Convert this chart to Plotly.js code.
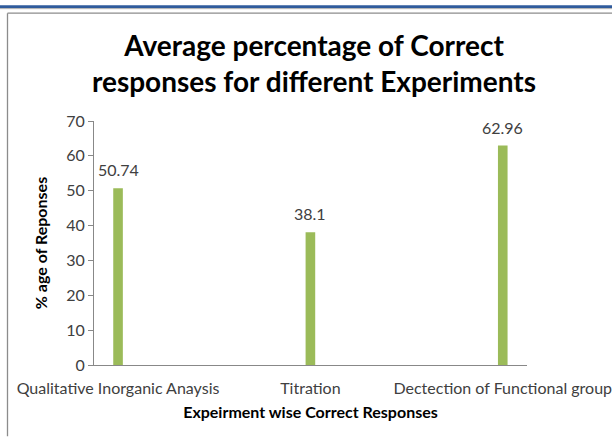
<!DOCTYPE html>
<html>
<head>
<meta charset="utf-8">
<script src="https://cdn.plot.ly/plotly-3.0.1.min.js"></script>
<style>
html,body{margin:0;padding:0;background:#fff;}
#chart{width:612px;height:437px;}
</style>
</head>
<body>
<div id="chart"></div>
<script>
const categories = ["Qualitative Inorganic Anaysis", "Titration", "Dectection of Functional group"];
const values = [50.74, 38.1, 62.96];
const valueLabels = ["50.74", "38.1", "62.96"];
const yTicks = [0, 10, 20, 30, 40, 50, 60, 70];

const FONT = "Lato, 'Open Sans', sans-serif";
const L = 94, R = 527, T = 120.7, B = 365.5;
const W = 612, H = 437;
function px(x){ return (x - L) / (R - L); }
function py(y){ return (B - y) / (B - T); }

const trace = {
  type: 'bar',
  x: categories,
  y: values,
  width: 0.05,
  marker: {color: '#9bbb59', line: {color: '#9bbb59', width: 0}},
  hoverinfo: 'none'
};

const annotations = categories.map((c, i) => ({
  x: c, y: values[i], xref: 'x', yref: 'y',
  text: valueLabels[i], showarrow: false,
  yanchor: 'bottom', yshift: 7,
  font: {family: FONT, size: 16, color: '#404040'}
}));

const shapes = [
  {type: 'line', xref: 'paper', yref: 'paper', x0: px(0), x1: px(W), y0: py(6), y1: py(6), line: {color: '#2f5b9c', width: 3}},
  {type: 'line', xref: 'paper', yref: 'paper', x0: px(0), x1: px(W), y0: py(8), y1: py(8), line: {color: '#b0b0b0', width: 1}},
  {type: 'line', xref: 'paper', yref: 'paper', x0: px(7.5), x1: px(W), y0: py(12.5), y1: py(12.5), line: {color: '#8c8c8c', width: 1.3}},
  {type: 'line', xref: 'paper', yref: 'paper', x0: px(7.5), x1: px(7.5), y0: py(12.5), y1: py(H), line: {color: '#8c8c8c', width: 1.3}}
];

const layout = {
  width: W, height: H,
  margin: {l: L, r: W - R, t: T, b: H - B, pad: 0},
  paper_bgcolor: '#ffffff', plot_bgcolor: '#ffffff',
  showlegend: false,
  title: {
    text: 'Average percentage of Correct<br>responses for different Experiments',
    font: {family: FONT, size: 28, color: '#000000', weight: 'bold'},
    x: 314 / W, xanchor: 'center', y: 1 - 56 / H, yanchor: 'middle'
  },
  xaxis: {
    type: 'category',
    range: [-0.125, 2.126],
    showline: true, linecolor: '#888888', linewidth: 1,
    ticks: 'outside', ticklen: 9, tickcolor: 'rgba(0,0,0,0)',
    showgrid: false, zeroline: false,
    tickfont: {family: FONT, size: 16, color: '#404040'},
    title: {text: 'Expeirment wise Correct Responses', font: {family: FONT, size: 16, color: '#000000', weight: 'bold'}, standoff: 10},
    automargin: false
  },
  yaxis: {
    range: [0, 70],
    tickvals: yTicks,
    ticktext: yTicks.map(String),
    showline: true, linecolor: '#888888', linewidth: 1,
    ticks: 'outside', ticklen: 5, tickcolor: '#888888',
    showgrid: false, zeroline: false,
    tickfont: {family: FONT, size: 16, color: '#404040'},
    title: {text: '% age of Reponses', font: {family: FONT, size: 16, color: '#000000', weight: 'bold'}, standoff: 14},
    automargin: false
  },
  annotations: annotations,
  shapes: shapes
};

Plotly.newPlot('chart', [trace], layout, {displayModeBar: false, staticPlot: true});
</script>
</body>
</html>
